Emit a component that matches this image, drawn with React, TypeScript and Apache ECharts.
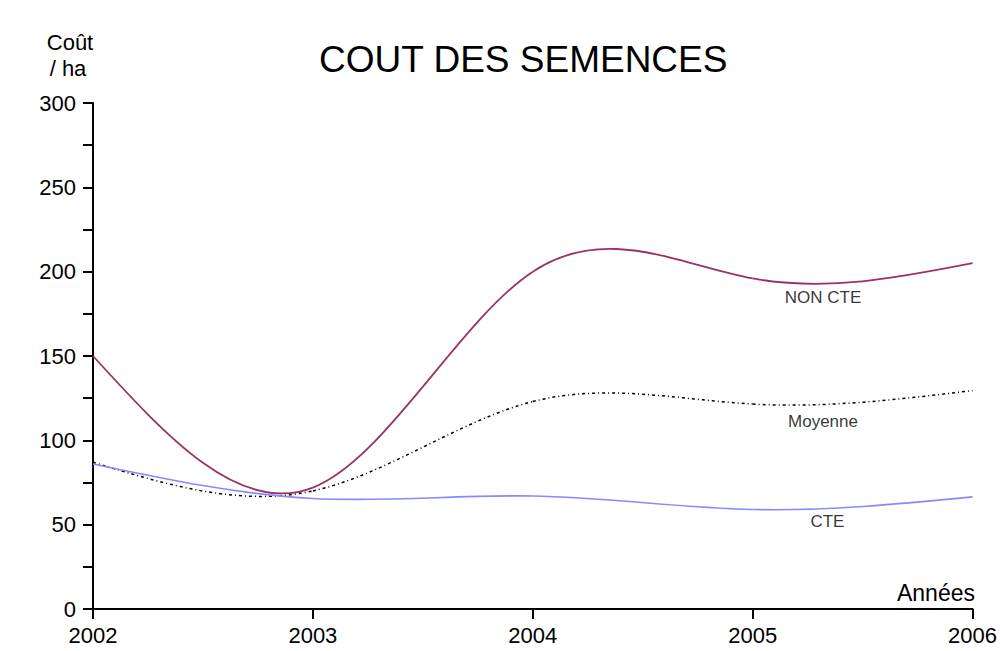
import React, { useEffect, useRef } from "react";
import * as echarts from "echarts";

const years = [2002, 2003, 2004, 2005, 2006];
const nonCte = [150, 72, 200, 196, 205];
const moyenne = [87, 70, 123, 121.5, 129.5];
const cte = [86, 65.5, 67, 59, 66.5];

const seriesNames = ["NON CTE", "Moyenne", "CTE"];
// label anchors (year, value) placed under each curve
const labelYears = [2005.32, 2005.32, 2005.34];
const labelValues = [184.4, 111.4, 51.6];

const yTicks = [0, 50, 100, 150, 200, 250, 300];

const FONT = "Liberation Sans, Arial, sans-serif";

// natural cubic spline second derivatives
function naturalSplineM(xs: number[], ys: number[]): number[] {
  const n = xs.length;
  const M = new Array(n).fill(0);
  if (n < 3) return M;
  const a: number[] = [], b: number[] = [], c: number[] = [], d: number[] = [];
  for (let i = 1; i < n - 1; i++) {
    const h0 = xs[i] - xs[i - 1];
    const h1 = xs[i + 1] - xs[i];
    a.push(h0);
    b.push(2 * (h0 + h1));
    c.push(h1);
    d.push(6 * ((ys[i + 1] - ys[i]) / h1 - (ys[i] - ys[i - 1]) / h0));
  }
  const m = b.length;
  for (let i = 1; i < m; i++) {
    const w = a[i] / b[i - 1];
    b[i] -= w * c[i - 1];
    d[i] -= w * d[i - 1];
  }
  const sol = new Array(m).fill(0);
  sol[m - 1] = d[m - 1] / b[m - 1];
  for (let i = m - 2; i >= 0; i--) sol[i] = (d[i] - c[i] * sol[i + 1]) / b[i];
  for (let i = 0; i < m; i++) M[i + 1] = sol[i];
  return M;
}

function splineSeries(name: string, values: number[], style: any) {
  const M = naturalSplineM(years, values);
  return {
    name,
    type: "custom",
    data: years.map((y, i) => [y, values[i]]),
    encode: { x: 0, y: 1 },
    renderItem: (params: any, api: any) => {
      const i = params.dataIndex;
      if (i >= years.length - 1) return { type: "group", children: [] };
      const x0 = years[i], x1 = years[i + 1];
      const y0 = values[i], y1 = values[i + 1];
      const h = x1 - x0;
      const s0 = (y1 - y0) / h - (h * (2 * M[i] + M[i + 1])) / 6;
      const s1 = (y1 - y0) / h + (h * (M[i] + 2 * M[i + 1])) / 6;
      const p0 = api.coord([x0, y0]);
      const p1 = api.coord([x1, y1]);
      const c0 = api.coord([x0 + h / 3, y0 + (s0 * h) / 3]);
      const c1 = api.coord([x1 - h / 3, y1 - (s1 * h) / 3]);
      return {
        type: "bezierCurve",
        shape: {
          x1: p0[0], y1: p0[1],
          x2: p1[0], y2: p1[1],
          cpx1: c0[0], cpy1: c0[1],
          cpx2: c1[0], cpy2: c1[1],
        },
        style: { fill: "none", ...style },
        silent: true,
      };
    },
  };
}

export default function App() {
  const ref = useRef<HTMLDivElement>(null);
  useEffect(() => {
    if (!ref.current) return;
    const chart = echarts.init(ref.current, null, { renderer: "svg" });
    chart.setOption({
      animation: false,
      backgroundColor: "#fff",
      graphic: [
        {
          type: "text",
          left: 522 - 203,
          top: 41,
          style: { text: "COUT DES SEMENCES", font: `37px ${FONT}`, fill: "#000" },
        },
        {
          type: "text",
          x: 70,
          y: 42,
          style: { text: "Coût", font: `22px ${FONT}`, fill: "#000", align: "center", verticalAlign: "middle" },
        },
        {
          type: "text",
          x: 68,
          y: 68,
          style: { text: "/ ha", font: `22px ${FONT}`, fill: "#000", align: "center", verticalAlign: "middle" },
        },
        {
          type: "text",
          x: 975,
          y: 593,
          style: { text: "Années", font: `23px ${FONT}`, fill: "#000", align: "right", verticalAlign: "middle" },
        },
      ],
      grid: { left: 93, right: 26, top: 103, bottom: 42 },
      xAxis: {
        type: "value",
        min: years[0],
        max: years[years.length - 1],
        interval: 1,
        axisLine: { lineStyle: { color: "#000", width: 2 } },
        axisTick: { show: true, length: 10, lineStyle: { color: "#000", width: 2 } },
        axisLabel: {
          formatter: (v: number) => String(v),
          color: "#000",
          fontSize: 22,
          fontFamily: FONT,
          margin: 15,
        },
        splitLine: { show: false },
      },
      yAxis: {
        type: "value",
        min: 0,
        max: 300,
        interval: 25,
        axisLine: { show: true, lineStyle: { color: "#000", width: 2 } },
        axisTick: { show: true, length: 10, lineStyle: { color: "#000", width: 2 } },
        axisLabel: {
          formatter: (v: number) => (yTicks.indexOf(v) >= 0 ? String(v) : ""),
          color: "#000",
          fontSize: 22,
          fontFamily: FONT,
          margin: 17,
        },
        splitLine: { show: false },
      },
      series: [
        splitSeriesGuard(splineSeries(seriesNames[0], nonCte, { stroke: "#993366", lineWidth: 1.8 })),
        splineSeries(seriesNames[1], moyenne, { stroke: "#000", lineWidth: 1.5, lineDash: [3, 3, 1, 3] }),
        splineSeries(seriesNames[2], cte, { stroke: "#8888ff", lineWidth: 1.6 }),
        {
          type: "scatter",
          symbolSize: 0,
          silent: true,
          data: seriesNames.map((n, i) => [labelYears[i], labelValues[i], n]),
          label: {
            show: true,
            position: "inside",
            formatter: (p: any) => p.value[2],
            color: "#000",
            fontSize: 17,
            fontFamily: FONT,
          },
        },
      ],
    });
    return () => chart.dispose();
  }, []);
  return <div ref={ref} style={{ width: 1000, height: 651, position: "absolute", left: 0, top: 0 }} />;
}

function splitSeriesGuard(s: any) {
  return s;
}
